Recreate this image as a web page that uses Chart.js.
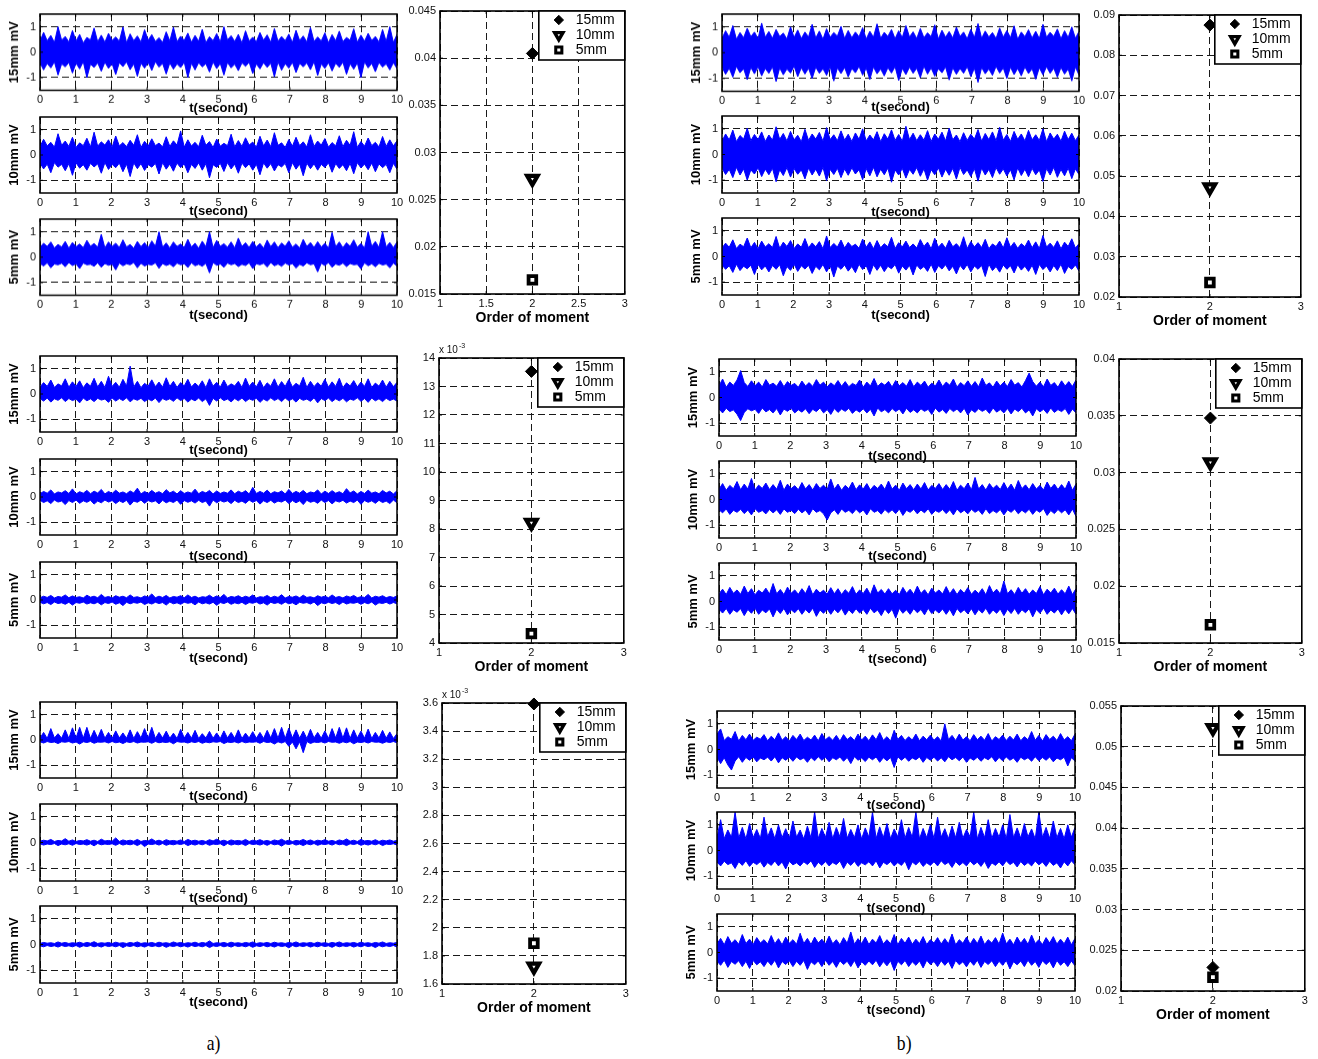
<!DOCTYPE html>
<html>
<head>
<meta charset="utf-8">
<script src="https://cdn.jsdelivr.net/npm/chart.js@4.4.1/dist/chart.umd.min.js"></script>
<style>
body { margin: 0; background: #fff; width: 1318px; height: 1059px; position: relative; overflow: hidden; }
.tag { position: absolute; font-family: "Liberation Serif", "Times New Roman", serif; font-size: 22px; line-height: 22px; transform: scaleX(.8); }
</style>
</head>
<body>
<div class="tag" style="left:205px;top:1032px">a)</div>
<div class="tag" style="left:895px;top:1032px">b)</div>
<script>
// tick labels
const T_TICKS = [0, 1, 2, 3, 4, 5, 6, 7, 8, 9, 10];
const MV_TICKS = [-1, 0, 1];

// signal envelopes (upper / lower edge of the blue trace, mV), 100 bins over 0..10 s
// set a, 1st row
const A1_15_HI = [.42,.78,.45,.66,.38,1.0,.47,.62,.4,.85,.44,.7,.36,.58,.48,.95,.41,.67,.39,.74,.46,.6,.43,.99,.37,.72,.45,.64,.4,.88,.47,.69,.42,.57,.38,.8,.44,.98,.41,.63,.46,.75,.39,.66,.43,.9,.37,.61,.45,.73,.4,1.0,.48,.65,.42,.7,.36,.84,.44,.59,.41,.77,.47,.68,.39,.93,.43,.62,.45,.71,.38,.86,.46,.64,.4,.97,.42,.6,.44,.76,.37,.69,.45,.83,.41,.58,.47,.92,.39,.67,.43,.74,.46,.62,.4,.89,.42,1.0,.38,.7];
const A1_15_LO = [-.41,-.7,-.44,-.62,-.38,-.9,-.46,-.58,-.4,-.82,-.43,-.66,-.37,-1.0,-.47,-.6,-.42,-.75,-.39,-.64,-.45,-.88,-.41,-.57,-.38,-.69,-.46,-.95,-.43,-.63,-.4,-.72,-.37,-.59,-.44,-.86,-.42,-.67,-.46,-.61,-.39,-1.0,-.43,-.7,-.41,-.58,-.45,-.78,-.38,-.65,-.44,-.9,-.4,-.62,-.47,-.73,-.42,-.56,-.39,-.84,-.46,-.66,-.41,-.6,-.43,-.97,-.38,-.71,-.45,-.63,-.4,-.8,-.44,-.58,-.42,-.69,-.37,-.92,-.46,-.64,-.41,-.74,-.43,-.6,-.39,-.87,-.45,-.67,-.42,-1.0,-.38,-.62,-.44,-.77,-.4,-.59,-.46,-.7,-.41,-.65];
const A1_10_HI = [.33,.62,.36,.5,.31,.84,.38,.55,.34,.7,.3,.48,.37,.66,.32,.9,.35,.52,.39,.6,.31,.75,.36,.49,.33,.58,.38,.8,.3,.54,.35,.64,.37,.47,.32,.72,.34,.56,.39,.95,.31,.6,.36,.5,.33,.78,.38,.53,.3,.63,.35,.46,.37,.82,.32,.57,.34,.68,.39,.51,.31,.74,.36,.59,.33,.88,.38,.48,.3,.61,.35,.7,.37,.52,.32,.8,.34,.55,.39,.65,.31,.49,.36,.76,.33,.58,.38,.92,.3,.53,.35,.67,.37,.5,.32,.73,.34,.6,.36,.56];
const A1_10_LO = [-.32,-.55,-.36,-.7,-.3,-.48,-.37,-.62,-.34,-.8,-.31,-.52,-.38,-.6,-.33,-.47,-.35,-.72,-.3,-.57,-.37,-.5,-.32,-.66,-.36,-.85,-.31,-.54,-.34,-.61,-.38,-.48,-.33,-.75,-.3,-.56,-.36,-.64,-.32,-.5,-.35,-.7,-.37,-.53,-.31,-.6,-.34,-.9,-.38,-.49,-.33,-.65,-.3,-.55,-.36,-.72,-.32,-.5,-.35,-.6,-.37,-.78,-.31,-.52,-.34,-.63,-.38,-.47,-.33,-.7,-.3,-.56,-.36,-.82,-.32,-.54,-.35,-.6,-.37,-.49,-.31,-.68,-.34,-.53,-.38,-.62,-.33,-.74,-.3,-.51,-.36,-.58,-.32,-.66,-.35,-.5,-.37,-.7,-.33,-.56];
const A1_5_HI = [.38,.55,.42,.6,.36,.5,.4,.62,.35,.58,.41,.52,.37,.66,.43,.54,.39,.9,.36,.6,.42,.55,.38,.68,.4,.5,.35,.62,.41,.57,.37,.64,.43,1.0,.39,.56,.36,.6,.42,.52,.38,.7,.4,.55,.35,.63,.41,1.0,.37,.66,.43,.53,.39,.6,.36,.75,.42,.57,.38,.62,.4,.54,.35,.67,.41,.6,.37,.56,.43,.64,.39,.52,.36,.7,.42,.58,.38,.61,.4,.55,.35,.97,.41,.6,.37,.57,.43,.68,.39,.54,.36,1.0,.42,.62,.38,1.0,.4,.58,.37,.6];
const A1_5_LO = [-.25,-.35,-.22,-.42,-.27,-.3,-.24,-.38,-.21,-.33,-.26,-.45,-.23,-.3,-.28,-.36,-.22,-.4,-.25,-.32,-.27,-.5,-.23,-.34,-.26,-.3,-.21,-.42,-.24,-.35,-.28,-.31,-.22,-.44,-.25,-.33,-.27,-.38,-.23,-.3,-.26,-.41,-.22,-.34,-.28,-.36,-.24,-.62,-.21,-.32,-.27,-.4,-.23,-.3,-.25,-.37,-.28,-.33,-.22,-.45,-.26,-.3,-.24,-.39,-.21,-.34,-.27,-.36,-.23,-.31,-.25,-.43,-.28,-.35,-.22,-.3,-.26,-.58,-.24,-.33,-.21,-.4,-.27,-.32,-.23,-.37,-.25,-.3,-.28,-.46,-.22,-.34,-.26,-.38,-.24,-.31,-.27,-.42,-.23,-.35];
// set a, 2nd row
const A2_15_HI = [.28,.45,.3,.55,.26,.4,.32,.6,.27,.48,.3,.52,.25,.44,.31,.62,.28,.5,.26,.7,.3,.46,.27,.58,.32,1.1,.28,.5,.25,.42,.31,.56,.29,.47,.27,.64,.3,.5,.26,.45,.32,.58,.28,.43,.3,.52,.25,.6,.31,.46,.27,.55,.29,.4,.32,.5,.26,.63,.3,.47,.28,.54,.25,.44,.31,.6,.27,.49,.3,.57,.28,.42,.32,.66,.26,.5,.29,.45,.31,.58,.27,.48,.3,.62,.25,.44,.32,.53,.28,.47,.3,.6,.26,.43,.31,.55,.27,.5,.29,.46];
const A2_15_LO = [-.18,-.28,-.16,-.32,-.19,-.25,-.15,-.3,-.18,-.26,-.2,-.35,-.16,-.27,-.19,-.3,-.17,-.24,-.2,-.33,-.16,-.28,-.18,-.26,-.15,-.31,-.19,-.25,-.17,-.3,-.2,-.27,-.16,-.34,-.18,-.25,-.19,-.29,-.15,-.26,-.18,-.32,-.2,-.27,-.16,-.3,-.19,-.45,-.17,-.28,-.15,-.26,-.2,-.31,-.18,-.27,-.16,-.3,-.19,-.25,-.17,-.33,-.2,-.28,-.15,-.26,-.18,-.3,-.16,-.27,-.19,-.32,-.17,-.25,-.2,-.29,-.15,-.35,-.18,-.26,-.16,-.3,-.19,-.27,-.17,-.31,-.2,-.25,-.15,-.29,-.18,-.33,-.16,-.27,-.19,-.3,-.17,-.26,-.2,-.28];
const A2_10_HI = [.13,.22,.15,.28,.12,.2,.16,.25,.14,.32,.12,.21,.15,.26,.13,.23,.16,.3,.12,.22,.14,.27,.15,.2,.13,.24,.16,.35,.12,.22,.14,.26,.15,.21,.13,.29,.16,.23,.12,.25,.14,.2,.15,.31,.13,.22,.16,.26,.12,.24,.14,.2,.15,.28,.13,.23,.16,.25,.12,.38,.14,.22,.15,.27,.13,.21,.16,.24,.12,.3,.14,.22,.15,.26,.13,.2,.16,.28,.12,.23,.14,.25,.15,.21,.13,.33,.16,.24,.12,.22,.14,.27,.15,.2,.13,.26,.16,.23,.12,.25];
const A2_10_LO = [-.13,-.22,-.15,-.26,-.12,-.2,-.16,-.3,-.14,-.22,-.12,-.25,-.15,-.21,-.13,-.28,-.16,-.23,-.12,-.2,-.14,-.26,-.15,-.22,-.13,-.32,-.16,-.21,-.12,-.25,-.14,-.2,-.15,-.27,-.13,-.23,-.16,-.22,-.12,-.29,-.14,-.21,-.15,-.24,-.13,-.22,-.16,-.36,-.12,-.23,-.14,-.2,-.15,-.26,-.13,-.22,-.16,-.25,-.12,-.21,-.14,-.28,-.15,-.22,-.13,-.24,-.16,-.2,-.12,-.26,-.14,-.23,-.15,-.3,-.13,-.21,-.16,-.25,-.12,-.22,-.14,-.27,-.15,-.2,-.13,-.24,-.16,-.22,-.12,-.29,-.14,-.21,-.15,-.25,-.13,-.22,-.16,-.26,-.12,-.23];
const A2_5_HI = [.09,.15,.1,.18,.08,.14,.11,.2,.09,.16,.1,.13,.08,.19,.11,.15,.09,.22,.1,.14,.08,.17,.11,.15,.09,.2,.1,.13,.08,.16,.11,.24,.09,.15,.1,.18,.08,.14,.11,.17,.09,.2,.1,.15,.08,.13,.11,.19,.09,.16,.1,.22,.08,.14,.11,.17,.09,.15,.1,.2,.08,.13,.11,.18,.09,.15,.1,.21,.08,.14,.11,.16,.09,.19,.1,.13,.08,.17,.11,.15,.09,.2,.1,.14,.08,.16,.11,.18,.09,.13,.1,.22,.08,.15,.11,.17,.09,.14,.1,.16];
const A2_5_LO = [-.09,-.15,-.1,-.18,-.08,-.14,-.11,-.17,-.09,-.2,-.1,-.13,-.08,-.16,-.11,-.15,-.09,-.19,-.1,-.14,-.08,-.17,-.11,-.22,-.09,-.15,-.1,-.13,-.08,-.18,-.11,-.16,-.09,-.14,-.1,-.2,-.08,-.15,-.11,-.17,-.09,-.13,-.1,-.19,-.08,-.15,-.11,-.16,-.09,-.21,-.1,-.14,-.08,-.17,-.11,-.15,-.09,-.18,-.1,-.13,-.08,-.16,-.11,-.2,-.09,-.14,-.1,-.17,-.08,-.15,-.11,-.19,-.09,-.13,-.1,-.16,-.08,-.22,-.11,-.15,-.09,-.14,-.1,-.18,-.08,-.16,-.11,-.13,-.09,-.17,-.1,-.15,-.08,-.2,-.11,-.14,-.09,-.16,-.1,-.15];
// set a, 3rd row
const A3_15_HI = [.07,.3,.06,.45,.08,.25,.07,.4,.06,.48,.08,.5,.07,.5,.06,.38,.08,.42,.07,.3,.06,.36,.08,.28,.07,.4,.06,.33,.08,.45,.07,.5,.06,.3,.08,.35,.07,.27,.06,.42,.08,.3,.07,.38,.06,.25,.08,.34,.07,.28,.06,.36,.08,.3,.07,.4,.06,.27,.08,.33,.07,.3,.06,.38,.08,.45,.07,.5,.06,.47,.08,.4,.07,.35,.06,.42,.08,.3,.07,.36,.06,.45,.08,.5,.07,.48,.06,.4,.08,.35,.07,.43,.06,.3,.08,.38,.07,.32,.06,.25];
const A3_15_LO = [-.07,-.12,-.06,-.1,-.08,-.14,-.07,-.09,-.06,-.12,-.08,-.16,-.07,-.1,-.06,-.13,-.08,-.09,-.07,-.12,-.06,-.11,-.08,-.14,-.07,-.1,-.06,-.12,-.08,-.09,-.07,-.13,-.06,-.11,-.08,-.1,-.07,-.15,-.06,-.09,-.08,-.12,-.07,-.1,-.06,-.13,-.08,-.11,-.07,-.09,-.06,-.14,-.08,-.1,-.07,-.12,-.06,-.11,-.08,-.09,-.07,-.13,-.06,-.1,-.08,-.16,-.07,-.12,-.06,-.25,-.08,-.35,-.07,-.5,-.06,-.14,-.08,-.1,-.07,-.12,-.06,-.09,-.08,-.13,-.07,-.11,-.06,-.15,-.08,-.1,-.07,-.12,-.06,-.09,-.08,-.13,-.07,-.1,-.06,-.11];
const A3_10_HI = [.05,.09,.06,.12,.04,.08,.06,.15,.05,.1,.04,.08,.06,.11,.05,.09,.04,.13,.06,.08,.05,.18,.04,.1,.06,.09,.05,.12,.04,.08,.06,.14,.05,.09,.04,.11,.06,.08,.05,.1,.04,.12,.06,.09,.05,.08,.04,.11,.06,.13,.05,.09,.04,.1,.06,.08,.05,.12,.04,.09,.06,.11,.05,.08,.04,.1,.06,.13,.05,.09,.04,.08,.06,.12,.05,.1,.04,.09,.06,.11,.05,.08,.04,.1,.06,.14,.05,.09,.04,.12,.06,.08,.05,.11,.04,.09,.06,.1,.05,.08];
const A3_10_LO = [-.05,-.1,-.06,-.08,-.04,-.12,-.06,-.09,-.05,-.11,-.04,-.08,-.06,-.1,-.05,-.13,-.04,-.09,-.06,-.08,-.05,-.11,-.04,-.1,-.06,-.09,-.05,-.12,-.04,-.16,-.06,-.08,-.05,-.1,-.04,-.11,-.06,-.09,-.05,-.08,-.04,-.12,-.06,-.1,-.05,-.09,-.04,-.11,-.06,-.08,-.05,-.13,-.04,-.1,-.06,-.09,-.05,-.12,-.04,-.08,-.06,-.1,-.05,-.11,-.04,-.09,-.06,-.14,-.05,-.08,-.04,-.1,-.06,-.12,-.05,-.09,-.04,-.11,-.06,-.08,-.05,-.1,-.04,-.09,-.06,-.12,-.05,-.08,-.04,-.11,-.06,-.1,-.05,-.09,-.04,-.12,-.06,-.08,-.05,-.1];
const A3_5_HI = [.04,.08,.05,.07,.04,.1,.05,.08,.04,.07,.05,.09,.04,.08,.05,.11,.04,.07,.05,.08,.04,.09,.05,.07,.04,.08,.05,.1,.04,.07,.05,.08,.04,.09,.05,.07,.04,.1,.05,.08,.04,.07,.05,.09,.04,.08,.05,.14,.04,.07,.05,.08,.04,.09,.05,.07,.04,.08,.05,.1,.04,.07,.05,.08,.04,.09,.05,.07,.04,.08,.05,.1,.04,.07,.05,.08,.04,.09,.05,.07,.04,.08,.05,.1,.04,.07,.05,.08,.04,.09,.05,.07,.04,.08,.05,.1,.04,.07,.05,.08];
const A3_5_LO = [-.05,-.09,-.04,-.08,-.05,-.1,-.04,-.08,-.05,-.09,-.04,-.11,-.05,-.08,-.04,-.09,-.05,-.1,-.04,-.08,-.05,-.09,-.04,-.12,-.05,-.08,-.04,-.09,-.05,-.1,-.04,-.08,-.05,-.09,-.04,-.11,-.05,-.08,-.04,-.09,-.05,-.1,-.04,-.08,-.05,-.09,-.04,-.12,-.05,-.08,-.04,-.09,-.05,-.1,-.04,-.08,-.05,-.09,-.04,-.11,-.05,-.08,-.04,-.09,-.05,-.1,-.04,-.08,-.05,-.13,-.04,-.09,-.05,-.08,-.04,-.1,-.05,-.09,-.04,-.08,-.05,-.11,-.04,-.09,-.05,-.08,-.04,-.1,-.05,-.09,-.04,-.08,-.05,-.12,-.04,-.09,-.05,-.08,-.04,-.1];
// set b, 1st row
const B1_15_HI = [.55,.85,.6,1.05,.52,.78,.58,.95,.62,.8,.54,1.15,.6,.82,.56,.9,.63,.76,.53,1.0,.59,.88,.55,.8,.61,1.1,.57,.84,.52,.93,.6,.78,.64,1.02,.55,.86,.58,.8,.62,.97,.53,.83,.6,1.12,.56,.79,.63,.9,.54,.85,.59,1.05,.61,.81,.55,.94,.58,.77,.62,1.08,.53,.87,.6,.82,.57,.99,.63,.8,.54,.91,.59,1.13,.56,.84,.61,.78,.55,.96,.6,.86,.58,1.04,.52,.8,.62,.89,.57,.83,.55,1.1,.6,.79,.63,.92,.54,.85,.59,1.0,.56,.82];
const B1_15_LO = [-.56,-.84,-.6,-.95,-.53,-.78,-.62,-1.05,-.57,-.82,-.54,-.9,-.61,-.8,-.55,-1.12,-.59,-.86,-.63,-.79,-.52,-.93,-.58,-.83,-.6,-1.0,-.56,-.8,-.62,-.88,-.54,-1.1,-.59,-.81,-.57,-.94,-.61,-.78,-.53,-.87,-.6,-1.04,-.55,-.82,-.63,-.9,-.58,-.79,-.54,-1.08,-.61,-.85,-.56,-.8,-.6,-.97,-.52,-.83,-.59,-.91,-.62,-.78,-.55,-1.06,-.58,-.84,-.61,-.8,-.54,-.93,-.6,-1.15,-.57,-.82,-.63,-.88,-.53,-.79,-.59,-1.0,-.56,-.85,-.61,-.9,-.55,-.81,-.62,-1.03,-.58,-.86,-.54,-.8,-.6,-.95,-.57,-.83,-.63,-1.1,-.55,-.87];
const B1_10_HI = [.52,.8,.57,.95,.5,.74,.6,1.02,.54,.78,.58,.88,.51,.76,.56,1.08,.59,.82,.53,.9,.57,.75,.5,.98,.55,.8,.6,.86,.52,1.05,.58,.77,.54,.92,.56,.79,.51,.84,.59,1.0,.53,.76,.57,.89,.5,.81,.6,.96,.55,.78,.52,1.1,.58,.83,.54,.77,.56,.93,.51,.8,.59,.87,.53,1.03,.57,.76,.5,.85,.55,.79,.6,.97,.52,.82,.58,.88,.54,1.06,.56,.78,.51,.9,.59,.8,.53,.94,.57,.77,.55,1.0,.5,.84,.6,.79,.52,.91,.58,.83,.54,.76];
const B1_10_LO = [-.53,-.78,-.58,-.9,-.5,-.8,-.56,-1.0,-.6,-.76,-.52,-.86,-.57,-.79,-.54,-1.06,-.59,-.82,-.51,-.88,-.55,-.77,-.6,-.95,-.53,-.8,-.57,-.84,-.5,-1.02,-.58,-.78,-.54,-.9,-.56,-.81,-.52,-.76,-.59,-.98,-.55,-.83,-.5,-.87,-.57,-.79,-.53,-1.08,-.6,-.8,-.54,-.92,-.58,-.77,-.51,-.85,-.56,-1.0,-.59,-.79,-.52,-.88,-.57,-.81,-.54,-.96,-.5,-.78,-.6,-.86,-.55,-1.04,-.53,-.8,-.58,-.9,-.51,-.77,-.56,-.84,-.59,-.99,-.52,-.82,-.57,-.87,-.54,-.79,-.6,-1.05,-.55,-.8,-.5,-.89,-.58,-.83,-.53,-.94,-.56,-.78];
const B1_5_HI = [.33,.52,.36,.65,.31,.48,.38,.72,.34,.55,.3,.6,.37,.5,.35,.78,.32,.56,.39,.62,.31,.49,.36,.7,.34,.53,.38,.58,.3,.8,.35,.51,.37,.64,.33,.55,.39,.48,.32,.68,.36,.57,.3,.62,.34,.5,.38,.75,.31,.54,.37,.6,.35,.49,.33,.66,.39,.56,.3,.71,.36,.52,.32,.63,.38,.5,.34,.77,.31,.58,.37,.54,.35,.67,.3,.49,.39,.6,.33,.73,.36,.55,.32,.5,.38,.64,.34,.57,.31,.82,.37,.52,.35,.61,.3,.56,.39,.69,.33,.5];
const B1_5_LO = [-.33,-.5,-.36,-.62,-.3,-.55,-.38,-.48,-.34,-.7,-.31,-.52,-.37,-.6,-.35,-.5,-.32,-.75,-.39,-.54,-.3,-.58,-.36,-.49,-.34,-.66,-.38,-.52,-.31,-.6,-.35,-.8,-.37,-.5,-.33,-.57,-.39,-.63,-.3,-.51,-.36,-.7,-.32,-.54,-.34,-.59,-.38,-.48,-.31,-.65,-.37,-.53,-.35,-.72,-.33,-.5,-.39,-.58,-.3,-.62,-.36,-.49,-.32,-.56,-.38,-.68,-.34,-.52,-.31,-.6,-.37,-.5,-.35,-.78,-.3,-.55,-.39,-.61,-.33,-.5,-.36,-.64,-.32,-.53,-.38,-.58,-.34,-.7,-.31,-.51,-.37,-.6,-.35,-.55,-.3,-.66,-.39,-.5,-.33,-.57];
// set b, 2nd row
const B2_15_HI = [.45,.72,.4,.6,.47,.68,1.05,.58,.43,.65,.46,.6,.41,.7,.48,.56,.44,.66,.42,.62,.47,.55,.4,.64,.45,.58,.43,.7,.48,.6,.41,.57,.46,.66,.44,.62,.42,.55,.47,.68,.4,.6,.45,.74,.43,.57,.48,.63,.41,.66,.46,.58,.44,.7,.42,.6,.47,.64,.4,.56,.45,.68,.43,.6,.48,.72,.41,.58,.46,.65,.44,.62,.42,.76,.47,.57,.4,.64,.45,.6,.43,.7,.48,.58,.41,.66,.95,.62,.44,.6,.42,.72,.47,.58,.4,.65,.45,.62,.43,.68];
const B2_15_LO = [-.45,-.6,-.42,-.55,-.48,-.65,-.9,-.58,-.44,-.52,-.46,-.62,-.41,-.56,-.47,-.6,-.43,-.68,-.45,-.54,-.42,-.6,-.48,-.57,-.44,-.63,-.46,-.55,-.41,-.6,-.47,-.66,-.43,-.58,-.45,-.54,-.42,-.62,-.48,-.57,-.44,-.6,-.46,-.72,-.41,-.56,-.47,-.6,-.43,-.55,-.45,-.64,-.42,-.58,-.48,-.6,-.44,-.54,-.46,-.66,-.41,-.57,-.47,-.62,-.43,-.55,-.45,-.6,-.42,-.68,-.48,-.58,-.44,-.54,-.46,-.62,-.41,-.57,-.47,-.6,-.43,-.64,-.45,-.55,-.42,-.6,-.48,-.72,-.44,-.56,-.46,-.62,-.41,-.58,-.47,-.55,-.43,-.66,-.45,-.6];
const B2_10_HI = [.4,.62,.36,.55,.42,.7,.38,.6,.41,.82,.37,.56,.43,.64,.39,.58,.4,.75,.36,.6,.42,.54,.38,.66,.41,.58,.37,.62,.43,.56,.39,.8,.4,.6,.36,.55,.42,.68,.38,.57,.41,.62,.37,.55,.43,.6,.39,.72,.4,.56,.36,.64,.42,.58,.38,.6,.41,.66,.37,.55,.43,.62,.39,.58,.4,.7,.36,.56,.42,.64,.38,.86,.41,.58,.37,.62,.43,.56,.39,.66,.4,.6,.36,.74,.42,.57,.38,.62,.41,.55,.37,.68,.43,.6,.39,.58,.4,.72,.36,.6];
const B2_10_LO = [-.4,-.52,-.37,-.58,-.42,-.5,-.38,-.55,-.41,-.6,-.36,-.5,-.43,-.56,-.39,-.52,-.4,-.58,-.37,-.5,-.42,-.55,-.38,-.52,-.41,-.6,-.36,-.5,-.43,-.56,-.8,-.52,-.4,-.58,-.37,-.5,-.42,-.55,-.38,-.52,-.41,-.6,-.36,-.5,-.43,-.57,-.39,-.52,-.4,-.55,-.37,-.62,-.42,-.5,-.38,-.56,-.41,-.52,-.36,-.58,-.43,-.5,-.39,-.55,-.4,-.6,-.37,-.52,-.42,-.56,-.38,-.5,-.41,-.58,-.36,-.55,-.43,-.52,-.39,-.6,-.4,-.5,-.37,-.56,-.42,-.52,-.38,-.58,-.41,-.5,-.36,-.62,-.43,-.55,-.39,-.52,-.4,-.6,-.37,-.66];
const B2_5_HI = [.3,.48,.27,.55,.32,.45,.28,.6,.31,.5,.26,.44,.33,.52,.29,.7,.3,.47,.27,.56,.32,.45,.28,.5,.31,.62,.26,.48,.33,.44,.29,.54,.3,.5,.27,.46,.32,.58,.28,.45,.31,.52,.26,.65,.33,.47,.29,.5,.3,.44,.27,.55,.32,.48,.28,.6,.31,.46,.26,.52,.33,.45,.29,.58,.3,.5,.27,.47,.32,.54,.28,.44,.31,.5,.26,.62,.33,.48,.29,.8,.3,.46,.27,.55,.32,.5,.28,.45,.31,.58,.26,.48,.33,.52,.29,.46,.3,.6,.27,.5];
const B2_5_LO = [-.3,-.45,-.27,-.5,-.32,-.42,-.28,-.55,-.31,-.46,-.26,-.5,-.33,-.44,-.29,-.6,-.3,-.47,-.27,-.52,-.32,-.44,-.28,-.5,-.31,-.45,-.26,-.58,-.33,-.46,-.29,-.5,-.3,-.44,-.27,-.53,-.32,-.47,-.28,-.45,-.31,-.5,-.26,-.44,-.33,-.55,-.29,-.47,-.3,-.65,-.27,-.46,-.32,-.5,-.28,-.44,-.31,-.52,-.26,-.47,-.33,-.45,-.29,-.5,-.3,-.56,-.27,-.44,-.32,-.48,-.28,-.52,-.31,-.45,-.26,-.5,-.33,-.46,-.29,-.55,-.3,-.47,-.27,-.5,-.32,-.44,-.28,-.6,-.31,-.46,-.26,-.5,-.33,-.45,-.29,-.52,-.3,-.48,-.27,-.5];
// set b, 3rd row
const B3_15_HI = [.6,.8,.35,.5,.4,.7,.33,.55,.38,.6,.36,.48,.4,.58,.34,.52,.38,.65,.36,.5,.33,.55,.39,.6,.35,.48,.37,.56,.34,.62,.38,.5,.36,.55,.33,.58,.39,.5,.35,.6,.37,.52,.34,.57,.38,.66,.36,.5,.33,.75,.39,.55,.35,.5,.37,.6,.34,.52,.38,.56,.36,.5,.33,1.0,.39,.55,.35,.6,.37,.5,.34,.58,.38,.52,.36,.62,.33,.5,.39,.56,.35,.52,.37,.6,.34,.5,.38,.7,.36,.55,.33,.58,.39,.52,.35,.62,.37,.5,.34,.6];
const B3_15_LO = [-.3,-.55,-.32,-.6,-.8,-.45,-.28,-.5,-.31,-.42,-.29,-.48,-.33,-.4,-.3,-.45,-.28,-.52,-.32,-.42,-.3,-.46,-.29,-.4,-.33,-.5,-.31,-.44,-.28,-.42,-.3,-.48,-.32,-.4,-.29,-.46,-.31,-.55,-.28,-.42,-.33,-.47,-.3,-.4,-.29,-.5,-.32,-.44,-.31,-.7,-.28,-.42,-.3,-.46,-.33,-.4,-.29,-.5,-.31,-.42,-.3,-.45,-.32,-.48,-.28,-.4,-.31,-.44,-.29,-.5,-.33,-.42,-.3,-.46,-.32,-.4,-.28,-.48,-.31,-.44,-.29,-.42,-.33,-.5,-.3,-.4,-.32,-.46,-.28,-.44,-.31,-.42,-.29,-.48,-.33,-.4,-.3,-.64,-.32,-.45];
const B3_10_HI = [.5,1.2,.46,.8,.52,1.5,.48,.9,.45,1.05,.5,.82,.47,1.3,.53,.88,.46,1.0,.5,.85,.48,1.15,.52,.8,.45,.95,.49,1.5,.47,.86,.51,1.1,.46,.9,.53,1.25,.48,.82,.5,1.0,.45,.88,.52,1.5,.47,.92,.5,1.05,.46,.84,.53,1.2,.48,.9,.51,1.5,.45,.86,.5,1.0,.47,1.3,.52,.85,.46,.95,.5,1.1,.48,.82,.53,1.5,.45,.9,.5,1.2,.47,.86,.52,1.0,.46,1.4,.5,.88,.48,1.05,.53,.84,.45,1.5,.51,.9,.47,1.15,.5,.86,.46,1.0,.52,.9];
const B3_10_LO = [-.45,-.6,-.42,-.55,-.48,-.7,-.44,-.58,-.4,-.62,-.46,-.55,-.43,-.65,-.47,-.58,-.41,-.6,-.45,-.72,-.42,-.56,-.48,-.6,-.44,-.55,-.4,-.66,-.46,-.58,-.43,-.6,-.47,-.55,-.41,-.7,-.45,-.58,-.42,-.62,-.48,-.56,-.44,-.6,-.4,-.68,-.46,-.55,-.43,-.6,-.47,-.58,-.41,-.75,-.45,-.56,-.42,-.62,-.48,-.58,-.44,-.6,-.4,-.55,-.46,-.66,-.43,-.58,-.47,-.6,-.41,-.56,-.45,-.62,-.42,-.7,-.48,-.58,-.44,-.6,-.4,-.55,-.46,-.64,-.43,-.58,-.47,-.6,-.41,-.56,-.45,-.62,-.42,-.58,-.48,-.68,-.44,-.6,-.4,-.56];
const B3_5_HI = [.34,.55,.3,.62,.36,.5,.32,.7,.35,.52,.31,.58,.37,.5,.33,.66,.34,.54,.3,.6,.36,.5,.32,.75,.35,.55,.31,.6,.37,.52,.33,.64,.34,.5,.3,.58,.36,.8,.32,.54,.35,.6,.31,.52,.37,.66,.33,.5,.34,.7,.3,.55,.36,.6,.32,.52,.35,.62,.31,.5,.37,.58,.33,.54,.34,.72,.3,.5,.36,.6,.32,.55,.35,.64,.31,.5,.37,.58,.33,.76,.34,.52,.3,.6,.36,.55,.32,.68,.35,.5,.31,.58,.37,.62,.33,.52,.34,.6,.3,.55];
const B3_5_LO = [-.33,-.5,-.3,-.58,-.35,-.46,-.32,-.55,-.34,-.62,-.31,-.48,-.36,-.55,-.33,-.5,-.3,-.6,-.35,-.47,-.32,-.55,-.34,-.5,-.31,-.66,-.36,-.48,-.33,-.55,-.3,-.5,-.35,-.58,-.32,-.47,-.34,-.55,-.31,-.6,-.36,-.5,-.33,-.48,-.3,-.56,-.35,-.52,-.32,-.7,-.34,-.48,-.31,-.55,-.36,-.5,-.33,-.6,-.3,-.47,-.35,-.55,-.32,-.5,-.34,-.62,-.31,-.48,-.36,-.56,-.33,-.5,-.3,-.58,-.35,-.47,-.32,-.55,-.34,-.5,-.31,-.64,-.36,-.48,-.33,-.55,-.3,-.5,-.35,-.58,-.32,-.47,-.34,-.6,-.31,-.5,-.36,-.55,-.33,-.52];

// moment plots: one point per sensor at order 2
const SENSORS = ['15mm', '10mm', '5mm'];
const ORDER = 2;
const MOM_A1 = [0.0405, 0.0272, 0.0165];
const MOM_A2 = [0.01353, 0.00822, 0.00433];
const MOM_A3 = [0.003593, 0.001723, 0.00189];
const MOM_B1 = [0.0875, 0.0472, 0.0236];
const MOM_B2 = [0.0348, 0.0309, 0.0166];
const MOM_B3 = [0.0229, 0.0523, 0.0217];
const ORDER_TICKS_FINE = [1, 1.5, 2, 2.5, 3];
const ORDER_TICKS = [1, 2, 3];
const Y_A1 = [0.015, 0.02, 0.025, 0.03, 0.035, 0.04, 0.045];
const Y_A2 = [0.004, 0.005, 0.006, 0.007, 0.008, 0.009, 0.010, 0.011, 0.012, 0.013, 0.014];
const Y_A3 = [0.0016, 0.0018, 0.0020, 0.0022, 0.0024, 0.0026, 0.0028, 0.0030, 0.0032, 0.0034, 0.0036];
const Y_B1 = [0.02, 0.03, 0.04, 0.05, 0.06, 0.07, 0.08, 0.09];
const Y_B2 = [0.015, 0.02, 0.025, 0.03, 0.035, 0.04];
const Y_B3 = [0.02, 0.025, 0.03, 0.035, 0.04, 0.045, 0.05, 0.055];

const FONT = '"Liberation Sans", Arial, Helvetica, sans-serif';
const BLUE = '#0000ff';
const GRID = '#1a1a1a';
const DASH = [7, 4];
Chart.defaults.font.family = FONT;
Chart.defaults.color = '#111';

// marker looks: filled diamond, heavy down-triangle, heavy square
const MARKS = [
    { style: 'rectRot', rot: 0, r: 6, fill: '#000', bw: 1 },
    { style: 'triangle', rot: 180, r: 6, fill: '#fff', bw: 4.2 },
    { style: 'rect', rot: 0, r: 5.4, fill: '#fff', bw: 3.8 }
];

// box, inward ticks, legend and exponent (matlab look)
const frame = {
    id: 'frame',
    afterDraw: function (chart, args, o) {
        var a = chart.chartArea, ctx = chart.ctx, sx = chart.scales.x, sy = chart.scales.y;
        ctx.save();
        ctx.strokeStyle = '#000';
        ctx.lineWidth = 1;
        ctx.beginPath();
        sx.ticks.forEach(function (t) {
            var p = sx.getPixelForValue(t.value);
            ctx.moveTo(p, a.top); ctx.lineTo(p, a.top + 3);
            ctx.moveTo(p, a.bottom); ctx.lineTo(p, a.bottom - 3);
        });
        sy.ticks.forEach(function (t) {
            var p = sy.getPixelForValue(t.value);
            ctx.moveTo(a.left, p); ctx.lineTo(a.left + 3, p);
            ctx.moveTo(a.right, p); ctx.lineTo(a.right - 3, p);
        });
        ctx.stroke();
        ctx.lineWidth = o.width || 1.5;
        ctx.strokeRect(a.left, a.top, a.right - a.left, a.bottom - a.top);

        if (o.exponent) {
            ctx.fillStyle = '#111';
            ctx.textAlign = 'left';
            ctx.textBaseline = 'alphabetic';
            ctx.font = '10px ' + FONT;
            ctx.fillText('x 10', a.left, a.top - 5);
            var w = ctx.measureText('x 10').width;
            ctx.font = '7px ' + FONT;
            ctx.fillText('-3', a.left + w + 1, a.top - 10);
        }

        if (o.legend) {
            var lw = 86, lh = 49, lx = a.right - lw, ly = a.top;
            ctx.fillStyle = '#fff';
            ctx.fillRect(lx, ly, lw, lh);
            ctx.lineWidth = 1.6;
            ctx.strokeRect(lx, ly, lw, lh);
            chart.data.datasets.forEach(function (ds, k) {
                var y = ly + 9 + k * 15;
                ctx.fillStyle = ds.pointBackgroundColor;
                ctx.strokeStyle = '#000';
                ctx.lineWidth = ds.pointBorderWidth * 0.8;
                if (Chart.helpers && Chart.helpers.drawPoint) {
                    Chart.helpers.drawPoint(ctx, {
                        pointStyle: ds.pointStyle, rotation: ds.pointRotation,
                        radius: ds.pointRadius * 0.8, borderWidth: ds.pointBorderWidth
                    }, lx + 20, y);
                }
                ctx.fillStyle = '#000';
                ctx.font = '14px ' + FONT;
                ctx.textAlign = 'left';
                ctx.textBaseline = 'middle';
                ctx.fillText(ds.label, lx + 37, y);
            });
        }
        ctx.restore();
    }
};

function addCanvas(x, y, w, h) {
    var cv = document.createElement('canvas');
    cv.width = w;
    cv.height = h;
    cv.style.cssText = 'position:absolute;left:' + x + 'px;top:' + y + 'px;width:' + w + 'px;height:' + h + 'px';
    document.body.appendChild(cv);
    return cv;
}

function fixedTicks(list) {
    return function (s) { s.ticks = list.map(function (v) { return { value: v }; }); };
}

// one voltage trace
function signalChart(p) {
    var L = 40, T = 6, R = 10, XH = (p.tOff || 18.5) + 8;
    var cv = addCanvas(p.left - L, p.top - T, L + p.w + R, T + p.h + XH);
    var pts = function (arr) {
        return arr.map(function (v, i) { return { x: i * 10 / (arr.length - 1), y: v }; });
    };
    new Chart(cv, {
        type: 'line',
        data: {
            datasets: [
                { data: pts(p.hi), borderColor: BLUE, backgroundColor: BLUE, borderWidth: 1, pointRadius: 0, fill: '+1', tension: 0 },
                { data: pts(p.lo), borderColor: BLUE, backgroundColor: BLUE, borderWidth: 1, pointRadius: 0, fill: false, tension: 0 }
            ]
        },
        options: {
            responsive: false, animation: false, events: [],
            layout: { padding: { left: 0, top: T, right: R, bottom: 0 } },
            plugins: { legend: { display: false }, tooltip: { enabled: false }, frame: { width: 1.5 } },
            scales: {
                x: {
                    type: 'linear', min: 0, max: 10,
                    afterBuildTicks: fixedTicks(T_TICKS),
                    afterFit: function (s) { s.height = XH; s.paddingLeft = 0; s.paddingRight = 0; },
                    grid: { color: GRID, drawTicks: false },
                    border: { display: false, dash: DASH },
                    ticks: { padding: 3, autoSkip: false, maxRotation: 0, font: { size: 11 }, color: '#111' },
                    title: { display: true, text: 't(second)', color: '#000', font: { size: 13, weight: 'bold' }, padding: 0 }
                },
                y: {
                    type: 'linear', min: -1.5, max: 1.5,
                    afterBuildTicks: fixedTicks(MV_TICKS),
                    afterFit: function (s) { s.width = L; s.paddingTop = 0; s.paddingBottom = 0; },
                    grid: { color: GRID, drawTicks: false },
                    border: { display: false, dash: DASH },
                    ticks: { padding: 4, font: { size: 11 }, color: '#111' },
                    title: { display: true, text: p.label, color: '#000', font: { size: 13, weight: 'bold' }, padding: { top: 7, bottom: 0 } }
                }
            }
        },
        plugins: [frame]
    });
}

// "order of moment" scatter
function momentChart(p) {
    var L = 44, T = 16, R = 8, B = 33;
    var cv = addCanvas(p.left - L, p.top - T, L + p.w + R, T + p.h + B);
    var fmt = p.milli
        ? function (v) { return String(+(v * 1000).toFixed(1)); }
        : function (v) { return String(+v.toFixed(4)); };
    new Chart(cv, {
        type: 'scatter',
        data: {
            datasets: SENSORS.map(function (name, k) {
                var m = MARKS[k];
                return {
                    label: name, data: [{ x: ORDER, y: p.vals[k] }], clip: false,
                    pointStyle: m.style, pointRotation: m.rot, pointRadius: m.r,
                    pointBackgroundColor: m.fill, pointBorderColor: '#000', pointBorderWidth: m.bw
                };
            })
        },
        options: {
            responsive: false, animation: false, events: [],
            layout: { padding: { left: 0, top: T, right: R, bottom: 0 } },
            plugins: { legend: { display: false }, tooltip: { enabled: false }, frame: { width: 1.6, legend: true, exponent: p.milli } },
            scales: {
                x: {
                    type: 'linear', min: 1, max: 3,
                    afterBuildTicks: fixedTicks(p.xt),
                    afterFit: function (s) { s.height = B; s.paddingLeft = 0; s.paddingRight = 0; },
                    grid: { color: GRID, drawTicks: false },
                    border: { display: false, dash: DASH },
                    ticks: { padding: 3, autoSkip: false, maxRotation: 0, font: { size: 11 }, color: '#111', callback: function (v) { return String(v); } },
                    title: { display: true, text: 'Order of moment', color: '#000', font: { size: 14, weight: 'bold' }, padding: 0 }
                },
                y: {
                    type: 'linear', min: p.yt[0], max: p.yt[p.yt.length - 1],
                    afterBuildTicks: fixedTicks(p.yt),
                    afterFit: function (s) { s.width = L; s.paddingTop = 0; s.paddingBottom = 0; },
                    grid: { color: GRID, drawTicks: false },
                    border: { display: false, dash: DASH },
                    ticks: { padding: 4, autoSkip: false, font: { size: 11 }, color: '#111', callback: fmt }
                }
            }
        },
        plugins: [frame]
    });
}

// layout of the 18 traces
[
    { left: 40, top: 14, w: 357, h: 76, label: '15mm mV', hi: A1_15_HI, lo: A1_15_LO, tOff: 17.5 },
    { left: 40, top: 117, w: 357, h: 76, label: '10mm mV', hi: A1_10_HI, lo: A1_10_LO, tOff: 18 },
    { left: 40, top: 219, w: 357, h: 76, label: '5mm mV', hi: A1_5_HI, lo: A1_5_LO, tOff: 19.5 },
    { left: 40, top: 356, w: 357, h: 76, label: '15mm mV', hi: A2_15_HI, lo: A2_15_LO, tOff: 18 },
    { left: 40, top: 459, w: 357, h: 76, label: '10mm mV', hi: A2_10_HI, lo: A2_10_LO, tOff: 21 },
    { left: 40, top: 562, w: 357, h: 76, label: '5mm mV', hi: A2_5_HI, lo: A2_5_LO, tOff: 20 },
    { left: 40, top: 702, w: 357, h: 76, label: '15mm mV', hi: A3_15_HI, lo: A3_15_LO, tOff: 18 },
    { left: 40, top: 804, w: 357, h: 77, label: '10mm mV', hi: A3_10_HI, lo: A3_10_LO, tOff: 17 },
    { left: 40, top: 906, w: 357, h: 77, label: '5mm mV', hi: A3_5_HI, lo: A3_5_LO, tOff: 19 },
    { left: 722, top: 14, w: 357, h: 77, label: '15mm mV', hi: B1_15_HI, lo: B1_15_LO, tOff: 15.5 },
    { left: 722, top: 116, w: 357, h: 77, label: '10mm mV', hi: B1_10_HI, lo: B1_10_LO, tOff: 19 },
    { left: 722, top: 218, w: 357, h: 77, label: '5mm mV', hi: B1_5_HI, lo: B1_5_LO, tOff: 20 },
    { left: 719, top: 359, w: 357, h: 77, label: '15mm mV', hi: B2_15_HI, lo: B2_15_LO, tOff: 20 },
    { left: 719, top: 461, w: 357, h: 77, label: '10mm mV', hi: B2_10_HI, lo: B2_10_LO, tOff: 18 },
    { left: 719, top: 563, w: 357, h: 77, label: '5mm mV', hi: B2_5_HI, lo: B2_5_LO, tOff: 19 },
    { left: 717, top: 711, w: 358, h: 77, label: '15mm mV', hi: B3_15_HI, lo: B3_15_LO, tOff: 17 },
    { left: 717, top: 812, w: 358, h: 77, label: '10mm mV', hi: B3_10_HI, lo: B3_10_LO, tOff: 19 },
    { left: 717, top: 914, w: 358, h: 77, label: '5mm mV', hi: B3_5_HI, lo: B3_5_LO, tOff: 19 }
].forEach(signalChart);

[
    { left: 440, top: 11, w: 187, h: 283, vals: MOM_A1, yt: Y_A1, xt: ORDER_TICKS_FINE },
    { left: 439, top: 358, w: 187, h: 285, vals: MOM_A2, yt: Y_A2, xt: ORDER_TICKS, milli: true },
    { left: 442, top: 703, w: 186, h: 281, vals: MOM_A3, yt: Y_A3, xt: ORDER_TICKS, milli: true },
    { left: 1119, top: 15, w: 184, h: 282, vals: MOM_B1, yt: Y_B1, xt: ORDER_TICKS },
    { left: 1119, top: 359, w: 185, h: 284, vals: MOM_B2, yt: Y_B2, xt: ORDER_TICKS },
    { left: 1121, top: 706, w: 186, h: 285, vals: MOM_B3, yt: Y_B3, xt: ORDER_TICKS }
].forEach(momentChart);
</script>
</body>
</html>
